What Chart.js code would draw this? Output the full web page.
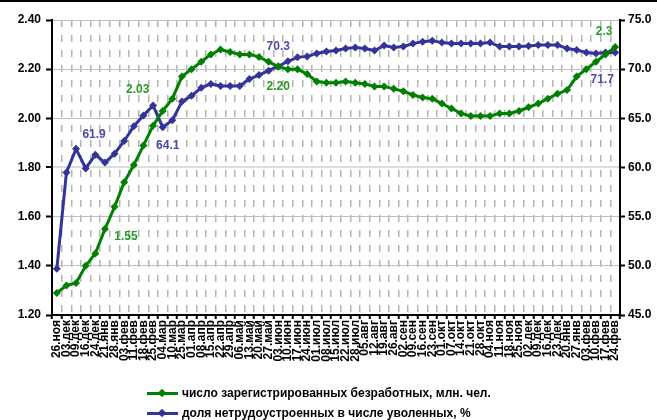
<!DOCTYPE html>
<html>
<head>
<meta charset="utf-8">
<script src="https://cdn.jsdelivr.net/npm/chart.js@4.4.1/dist/chart.umd.min.js"></script>
<style>
  body { margin: 0; background: #fff; }
  #wrap { position: relative; width: 657px; height: 420px; overflow: hidden; }
  #topline { position: absolute; left: 0; top: 0; width: 657px; height: 2px; background: #000; }
  .legend { position: absolute; left: 147px; top: 384px; font: bold 12px "Liberation Sans", Arial, sans-serif; color: #000; }
  .legend .item { height: 20px; line-height: 18px; white-space: nowrap; }
  .swatch { display: inline-block; position: relative; width: 31px; height: 3px; vertical-align: middle; margin-right: 4px; }
  .swatch i { position: absolute; left: 12px; top: -2px; width: 6px; height: 6px; transform: rotate(45deg); }
</style>
</head>
<body>
<div id="wrap">
  <canvas id="chart" width="657" height="420"></canvas>
  <div id="topline"></div>
  <div class="legend">
    <div class="item"><span class="swatch" style="background:#008000"><i style="background:#008000"></i></span>число зарегистрированных безработных, млн. чел.</div>
    <div class="item"><span class="swatch" style="background:#333399"><i style="background:#333399"></i></span>доля нетрудоустроенных в числе уволенных, %</div>
  </div>
</div>
<script>
const weeks = [
  '26.ноя', '03.дек', '09.дек', '16.дек', '24.дек', '21.янв', '28.янв', '03.фев', '11.фев', '18.фев',
  '25.фев', '04.мар', '10.мар', '25.мар', '01.апр', '08.апр', '15.апр', '22.апр', '29.апр', '06.май',
  '13.май', '20.май', '27.май', '03.июн', '10.июн', '17.июн', '24.июн', '01.июл', '08.июл', '15.июл',
  '22.июл', '28.июл', '05.авг', '12.авг', '19.авг', '26.авг', '02.сен', '09.сен', '16.сен', '23.сен',
  '01.окт', '07.окт', '14.окт', '21.окт', '28.окт', '04.ноя', '11.ноя', '18.ноя', '25.ноя', '02.дек',
  '09.дек', '16.дек', '23.дек', '20.янв', '27.янв', '03.фев', '10.фев', '17.фев', '24.фев'
];

// число зарегистрированных безработных, млн. чел.
const unemployed = [
  1.29, 1.32, 1.33, 1.40, 1.45, 1.55, 1.64, 1.74, 1.81, 1.89,
  1.97, 2.03, 2.08, 2.17, 2.20, 2.23, 2.26, 2.28, 2.27, 2.26,
  2.26, 2.25, 2.23, 2.21, 2.20, 2.20, 2.18, 2.15, 2.145, 2.145,
  2.15, 2.145, 2.14, 2.13, 2.13, 2.12, 2.11, 2.095, 2.085, 2.08,
  2.06, 2.04, 2.02, 2.01, 2.01, 2.01, 2.02, 2.02, 2.03, 2.045,
  2.06, 2.08, 2.10, 2.115, 2.17, 2.20, 2.23, 2.26, 2.29
];

// доля нетрудоустроенных в числе уволенных, %
const notPlacedShare = [
  49.7, 59.5, 61.9, 59.9, 61.3, 60.5, 61.4, 62.7, 64.2, 65.3,
  66.3, 64.1, 64.8, 66.7, 67.3, 68.1, 68.5, 68.3, 68.3, 68.3,
  69.0, 69.4, 69.85, 70.3, 70.8, 71.2, 71.3, 71.6, 71.8, 71.9,
  72.1, 72.2, 72.1, 71.9, 72.4, 72.2, 72.3, 72.6, 72.8, 72.9,
  72.7, 72.6, 72.6, 72.6, 72.6, 72.7, 72.3, 72.3, 72.3, 72.35,
  72.45, 72.45, 72.45, 72.1, 71.95, 71.7, 71.6, 71.7, 71.7
];

const leftTicks = [1.20, 1.40, 1.60, 1.80, 2.00, 2.20, 2.40];
const rightTicks = [45.0, 50.0, 55.0, 60.0, 65.0, 70.0, 75.0];

// подписи значений: серия, индекс точки, текст
const valueLabels = [
  { ds: 0, i: 5, text: '1.55', dx: 21, dy: 8 },
  { ds: 0, i: 11, text: '2.03', dx: -25, dy: -21 },
  { ds: 0, i: 23, text: '2.20', dx: 0, dy: 20 },
  { ds: 0, i: 58, text: '2.3', dx: -11, dy: -15 },
  { ds: 1, i: 2, text: '61.9', dx: 18, dy: -14 },
  { ds: 1, i: 11, text: '64.1', dx: 5, dy: 19 },
  { ds: 1, i: 23, text: '70.3', dx: 0, dy: -20 },
  { ds: 1, i: 58, text: '71.7', dx: -13, dy: 27 }
];

const GREEN = '#008000';
const BLUE = '#333399';
const FONT = '"Liberation Sans", Arial, sans-serif';

const valueLabelPlugin = {
  id: 'valueLabels',
  afterDatasetsDraw(chart) {
    const ctx = chart.ctx;
    ctx.save();
    ctx.font = 'bold 12px ' + FONT;
    ctx.textAlign = 'center';
    ctx.textBaseline = 'middle';
    valueLabels.forEach((label) => {
      const point = chart.getDatasetMeta(label.ds).data[label.i];
      ctx.fillStyle = label.ds === 0 ? '#2a9a2a' : '#4b4bab';
      ctx.fillText(label.text, point.x + label.dx, point.y + label.dy);
    });
    ctx.restore();
  }
};

function setTicks(values) {
  return (scale) => {
    scale.ticks = values.map((value) => ({ value }));
  };
}

function isMiddle(c) {
  return c.tick && Math.abs(c.tick.value - 1.8) < 1e-6;
}

new Chart(document.getElementById('chart'), {
  type: 'line',
  data: {
    labels: weeks,
    datasets: [
      {
        label: 'число зарегистрированных безработных, млн. чел.',
        data: unemployed,
        yAxisID: 'y',
        borderColor: GREEN,
        backgroundColor: GREEN,
        borderWidth: 3,
        pointStyle: 'rectRot',
        pointRadius: 4,
        pointBorderWidth: 0,
        tension: 0
      },
      {
        label: 'доля нетрудоустроенных в числе уволенных, %',
        data: notPlacedShare,
        yAxisID: 'y1',
        borderColor: BLUE,
        backgroundColor: BLUE,
        borderWidth: 3,
        pointStyle: 'rectRot',
        pointRadius: 4,
        pointBorderWidth: 0,
        tension: 0
      }
    ]
  },
  options: {
    responsive: false,
    animation: false,
    layout: { padding: { top: 20, left: 0, right: 0, bottom: 0 } },
    plugins: {
      legend: { display: false },
      tooltip: { enabled: false }
    },
    scales: {
      x: {
        offset: true,
        grid: {
          offset: true,
          color: '#b4b4b4',
          lineWidth: 1.5,
          tickColor: '#000',
          tickLength: 4,
          tickWidth: 2,
          tickBorderDash: []
        },
        border: { color: '#000', width: 2, dash: [7, 8] },
        ticks: {
          autoSkip: false,
          maxRotation: 90,
          minRotation: 90,
          padding: 1,
          color: '#000',
          font: { family: FONT, size: 12, weight: 'bold' }
        },
        afterFit: (scale) => { scale.height = 105; }
      },
      y: {
        position: 'left',
        min: 1.2,
        max: 2.4,
        afterBuildTicks: setTicks(leftTicks),
        grid: {
          color: (c) => (isMiddle(c) ? '#dcdcdc' : '#c0c0c0'),
          lineWidth: (c) => (isMiddle(c) ? 2 : 1),
          tickColor: '#000',
          tickLength: 6,
          tickWidth: 2
        },
        border: { color: '#000', width: 2 },
        ticks: {
          padding: 5,
          color: '#000',
          font: { family: FONT, size: 12, weight: 'bold' },
          callback: (value) => Number(value).toFixed(2)
        },
        afterFit: (scale) => { scale.width = 52; }
      },
      y1: {
        position: 'right',
        min: 45,
        max: 75,
        afterBuildTicks: setTicks(rightTicks),
        grid: {
          drawOnChartArea: false,
          tickColor: '#000',
          tickLength: 5,
          tickWidth: 2
        },
        border: { color: '#000', width: 2 },
        ticks: {
          padding: 3,
          color: '#000',
          font: { family: FONT, size: 12, weight: 'bold' },
          callback: (value) => Number(value).toFixed(1)
        },
        afterFit: (scale) => { scale.width = 37; }
      }
    }
  },
  plugins: [valueLabelPlugin]
});
</script>
</body>
</html>
